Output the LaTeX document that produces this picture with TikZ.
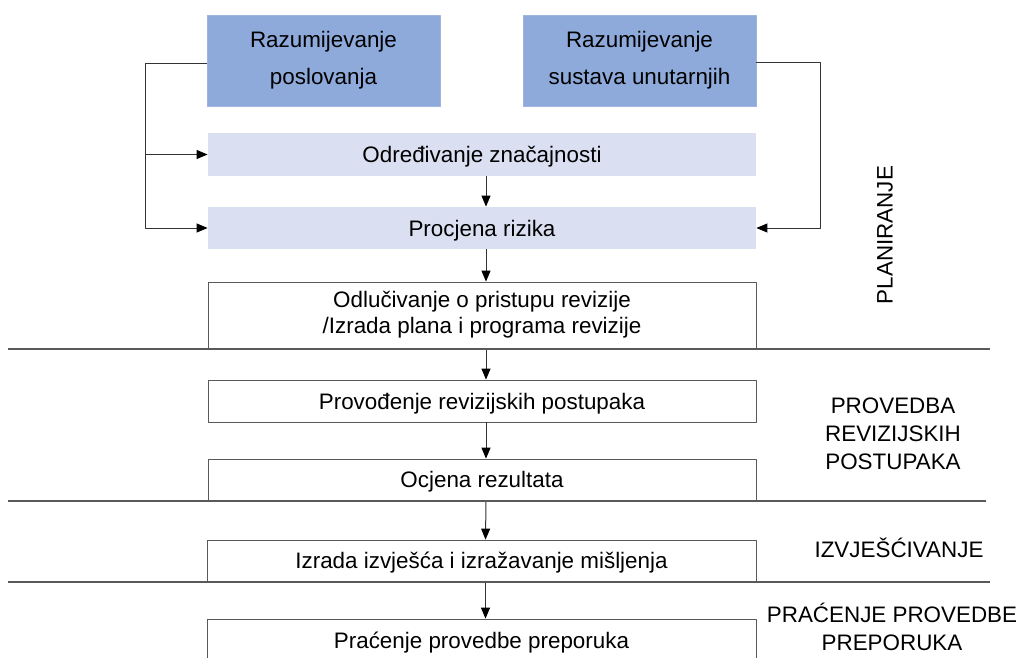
\documentclass[tikz,border=0pt]{standalone}
\usepackage{fontspec}
\setmainfont{Liberation Sans}
\usetikzlibrary{arrows.meta}
\definecolor{darkbox}{HTML}{8EAADB}
\definecolor{lightbox}{HTML}{DAE0F2}
\definecolor{edgegray}{HTML}{595959}
\tikzset{
  topbox/.style={fill=darkbox, draw=darkbox!85!white, minimum width=116.5pt, minimum height=45.5pt,
    inner sep=0pt, align=center, font=\fontsize{11.2}{18.5}\selectfont},
  shadebox/.style={fill=lightbox, minimum width=274pt, minimum height=21.5pt, inner sep=0pt,
    text depth=0pt},
  stepnode/.style={draw=edgegray, fill=white, minimum width=274pt, minimum height=21pt,
    inner sep=0pt, align=center, text depth=0pt},
  phase/.style={align=center, font=\fontsize{11.2}{14}\selectfont},
  link/.style={draw=black!80, line width=0.5pt, ->},
  sepline/.style={draw=edgegray, line width=0.6pt},
}
\begin{document}
\begin{tikzpicture}[x=0.5pt, y=-0.5pt, font=\fontsize{11.2}{13}\selectfont, line join=round,
    >={Triangle[length=5.5pt,width=4.5pt,color=black]}]
  \useasboundingbox (0,0) rectangle (1017,658);
  % gornji blokovi
  \node[topbox] (posl) at (323.5,60.5) {Razumijevanje\\poslovanja};
  \node[topbox] (sust) at (639.5,60.5) {Razumijevanje\\sustava unutarnjih};
  \node[shadebox] (znac) at (482,154.5) {Određivanje značajnosti};
  \node[shadebox, minimum height=21pt] (rizik) at (482,228) {Procjena rizika};
  \node[stepnode, minimum height=33pt, text depth=] (odluc) at (482,315)
    {Odlučivanje o pristupu revizije\\/Izrada plana i programa revizije};
  \node[stepnode] (proved) at (482,401) {Provođenje revizijskih postupaka};
  \node[stepnode, minimum height=20.5pt] (ocjena) at (482,479.5) {Ocjena rezultata};
  \node[stepnode, minimum height=20.5pt, minimum width=274.5pt] (izrada) at (481.5,560.5)
    {Izrada izvješća i izražavanje mišljenja};
  \node[stepnode, minimum width=274.5pt] (pracenje) at (481.5,640) {Praćenje provedbe preporuka};
  % povratne veze
  \draw[link] ([yshift=-1.5pt]posl.west) -- ++(-61,0) coordinate (lt) |- (rizik.west);
  \draw[link] (lt |- znac.west) -- (znac.west);
  \draw[link] ([yshift=-1pt]sust.east) -- ++(64,0) |- (rizik.east);
  % tok
  \foreach \a/\b in {znac/rizik, rizik/odluc, odluc/proved, proved/ocjena, ocjena/izrada, izrada/pracenje}
    \draw[link] ([xshift=2pt]\a.south) -- ([xshift=2pt]\b.north);
  % faze
  \draw[sepline] (8,349) -- (990,349);
  \draw[sepline] (8,501) -- (986,501);
  \draw[sepline] (8,582) -- (990,582);
  \node[phase, rotate=90] (plan) at (885,235) {PLANIRANJE};
  \node[phase] (provf) at (893,434) {PROVEDBA\\REVIZIJSKIH\\POSTUPAKA};
  \node[phase] (izvf) at (899,548) {IZVJEŠĆIVANJE};
  \node[phase] (pracf) at (892,627) {PRAĆENJE PROVEDBE\\PREPORUKA};
\end{tikzpicture}
\end{document}
